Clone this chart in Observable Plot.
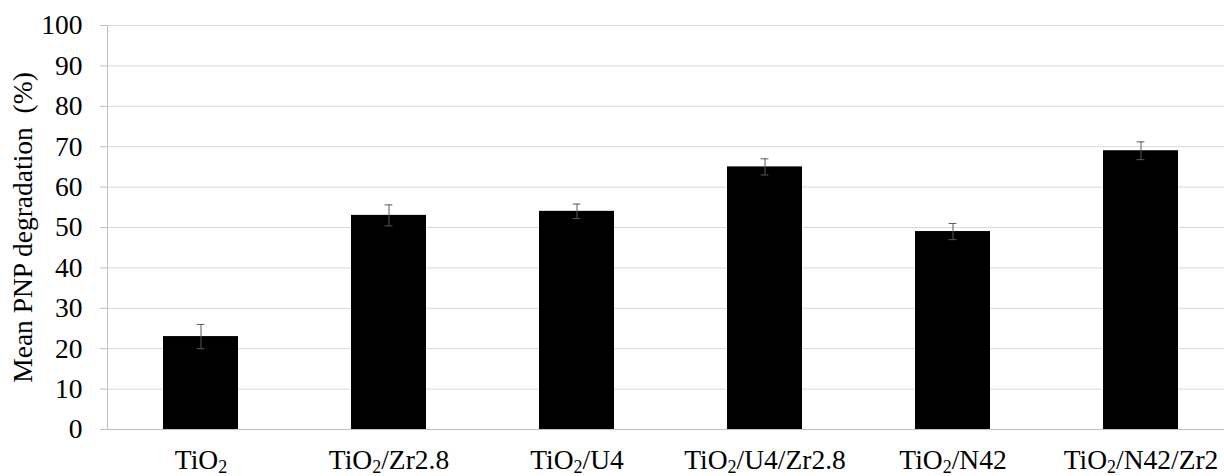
<!DOCTYPE html>
<html><head><meta charset="utf-8">
<script src="https://cdn.jsdelivr.net/npm/d3@7"></script>
<script src="https://cdn.jsdelivr.net/npm/@observablehq/plot@0.6"></script>
<style>body{margin:0;background:#fff;overflow:hidden}</style>
</head><body><div id="chart"></div>
<script>
const categories = ["TiO₂", "TiO₂/Zr2.8", "TiO₂/U4", "TiO₂/U4/Zr2.8", "TiO₂/N42", "TiO₂/N42/Zr2"];
const means = [23, 53, 54, 65, 49, 69];
const errors = [3, 2.6, 1.8, 2, 2, 2.2];
const yTicks = [0, 10, 20, 30, 40, 50, 60, 70, 80, 90, 100];
const yLabel = "Mean PNP degradation  (%)";

const data = categories.map((c, i) => ({cat: c, mean: means[i], lo: means[i] - errors[i], hi: means[i] + errors[i]}));

const FONT = "'Liberation Serif', 'Times New Roman', serif";
const FS = 27.5;

const chart = Plot.plot({
  width: 1224, height: 476,
  marginLeft: 107, marginRight: 0, marginTop: 25, marginBottom: 47,
  style: {fontFamily: FONT, fontSize: FS + "px", background: "#fff", color: "#000"},
  x: {domain: categories, range: [107, 1235], paddingInner: 0.6, paddingOuter: 0.3, label: null},
  y: {domain: [0, 100], label: null},
  marks: [
    Plot.gridY(yTicks, {stroke: "#d9d9d9", strokeOpacity: 1}),
    Plot.barY(data, {x: "cat", y: "mean", fill: "#000"}),
    Plot.ruleY([0], {stroke: "#bfbfbf"}),
    Plot.ruleX(data, {x: "cat", y1: "lo", y2: "hi", stroke: "#595959", strokeWidth: 1}),
    Plot.tickY(data, {x: "cat", y: "lo", stroke: "#595959", insetLeft: 33.6, insetRight: 33.6}),
    Plot.tickY(data, {x: "cat", y: "hi", stroke: "#595959", insetLeft: 33.6, insetRight: 33.6}),
    Plot.frame({anchor: "left", stroke: "#bfbfbf"}),
    Plot.axisY({ticks: yTicks, tickSize: 7, tickPadding: 18, stroke: "#bfbfbf", label: null, fill: "#000", fontSize: FS, fontFamily: FONT}),
    Plot.axisX({tickSize: 0, tickPadding: 20, label: null, fill: "#000", fontSize: FS, fontFamily: FONT}),
    Plot.text([yLabel], {frameAnchor: "left", dx: -84, rotate: -90, textAnchor: "middle", lineAnchor: "middle", fill: "#000", fontSize: FS, fontFamily: FONT})
  ]
});
document.getElementById("chart").appendChild(chart);

// render the "₂" as a true subscript
chart.querySelectorAll('g[aria-label="x-axis tick label"] text').forEach(t => {
  const s = t.textContent;
  const parts = s.split("₂");
  t.textContent = "";
  parts.forEach((p, i) => {
    if (i > 0) {
      const sub = document.createElementNS("http://www.w3.org/2000/svg", "tspan");
      sub.setAttribute("baseline-shift", "-4");
      sub.setAttribute("font-size", "18");
      sub.textContent = "2";
      t.appendChild(sub);
    }
    if (p) {
      const n = document.createElementNS("http://www.w3.org/2000/svg", "tspan");
      n.textContent = p;
      t.appendChild(n);
    }
  });
});
</script>
</body></html>
